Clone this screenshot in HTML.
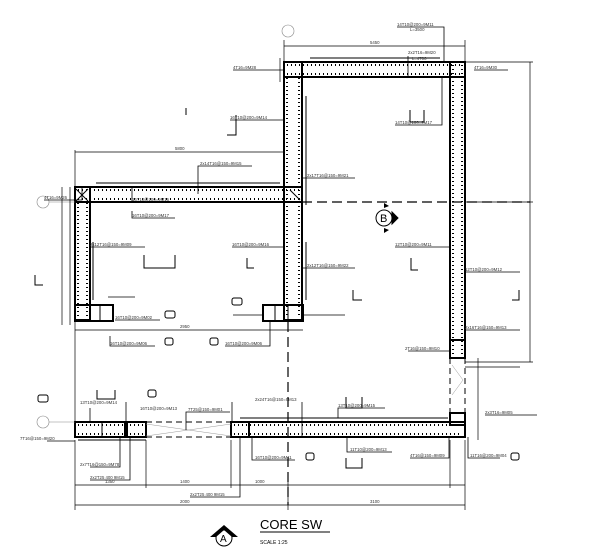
<!DOCTYPE html>
<html><head><meta charset="utf-8"><style>
html,body{margin:0;padding:0;background:#fff;width:600px;height:552px;overflow:hidden}
svg{display:block}
text{font-family:"Liberation Sans",sans-serif;fill:#333}
.t{font-size:4.3px}
</style></head><body>
<svg width="600" height="552" viewBox="0 0 600 552" xmlns="http://www.w3.org/2000/svg">
<g fill="none" stroke="#000">
<g stroke-width="2">
<rect x="284" y="62" width="181" height="15"/>
<rect x="450" y="62" width="15" height="296"/>
<rect x="284" y="62" width="18" height="258"/>
<rect x="75" y="187" width="227" height="15"/>
<rect x="75" y="187" width="15" height="133"/>
<rect x="75" y="305" width="38" height="16"/>
<rect x="263" y="305" width="40" height="16"/>
<rect x="75" y="422" width="50" height="15"/>
<rect x="127" y="422" width="19" height="15"/>
<rect x="231" y="422" width="234" height="15"/>
<rect x="231" y="422" width="18" height="15"/>
<rect x="450" y="340" width="15" height="18"/>
<rect x="450" y="413" width="15" height="12"/>
</g>
<g stroke-width="1">
<line x1="90" y1="305" x2="90" y2="321"/><line x1="100" y1="305" x2="100" y2="321"/>
<line x1="275" y1="305" x2="275" y2="321"/><line x1="288" y1="305" x2="288" y2="321"/>
<line x1="102" y1="422" x2="102" y2="437"/>
<line x1="450" y1="77" x2="465" y2="77"/>
<line x1="284" y1="77" x2="302" y2="77"/>
<line x1="284" y1="187" x2="302" y2="187"/>
<line x1="76" y1="189" x2="88" y2="201"/><line x1="88" y1="189" x2="76" y2="201"/>
<line x1="290" y1="190" x2="300" y2="200"/>
<line x1="306" y1="96" x2="306" y2="205"/><line x1="306" y1="242" x2="306" y2="300"/>
<line x1="93" y1="242" x2="93" y2="300"/><line x1="96" y1="183" x2="280" y2="183"/>
<line x1="310" y1="58" x2="440" y2="58"/><line x1="240" y1="418" x2="448" y2="418"/>
<line x1="78" y1="440" x2="146" y2="440"/>
</g>
<g stroke-width="2" stroke-dasharray="1 3">
<line x1="287" y1="65" x2="462" y2="65"/><line x1="287" y1="74" x2="462" y2="74"/>
<line x1="453" y1="65" x2="453" y2="355"/><line x1="462" y1="65" x2="462" y2="355"/>
<line x1="287" y1="78" x2="287" y2="318"/><line x1="299" y1="78" x2="299" y2="318"/>
<line x1="78" y1="190" x2="299" y2="190"/><line x1="78" y1="199" x2="299" y2="199"/>
<line x1="78" y1="203" x2="78" y2="318"/><line x1="87" y1="203" x2="87" y2="318"/>
<line x1="234" y1="425" x2="462" y2="425"/><line x1="234" y1="434" x2="462" y2="434"/>
<line x1="78" y1="425" x2="144" y2="425"/><line x1="78" y1="434" x2="144" y2="434"/>
</g>
<g stroke-width="1" stroke-dasharray="6 4">
<line x1="450" y1="358" x2="450" y2="413"/><line x1="465" y1="358" x2="465" y2="413"/>
<line x1="146" y1="422" x2="231" y2="422"/><line x1="146" y1="437" x2="231" y2="437"/>
</g>
<g stroke-width="0.5" stroke="#999">
<line x1="146" y1="424" x2="231" y2="436"/><line x1="146" y1="436" x2="231" y2="424"/>
<line x1="452" y1="365" x2="463" y2="380"/><line x1="463" y1="380" x2="452" y2="395"/>
</g>
<g stroke-width="1.2" stroke-dasharray="10 5">
<line x1="302" y1="202" x2="530" y2="202"/>
<line x1="288" y1="322" x2="288" y2="505"/>
</g>
<g stroke-width="0.6" stroke="#888">
<circle cx="288" cy="31" r="6"/><circle cx="43" cy="202" r="6"/><circle cx="43" cy="422" r="6"/>
<line x1="49" y1="202" x2="75" y2="202"/><line x1="49" y1="422" x2="75" y2="422"/>
</g>
<g stroke-width="0.7">
<line x1="75" y1="485" x2="465" y2="485"/>
<line x1="75" y1="505" x2="465" y2="505"/>
<line x1="75" y1="440" x2="75" y2="510"/><line x1="146" y1="440" x2="146" y2="488"/>
<line x1="231" y1="440" x2="231" y2="488"/><line x1="288" y1="480" x2="288" y2="510"/>
<line x1="450" y1="440" x2="450" y2="488"/><line x1="465" y1="440" x2="465" y2="510"/>
<line x1="530" y1="62" x2="530" y2="362"/>
<line x1="465" y1="62" x2="533" y2="62"/><line x1="465" y1="202" x2="533" y2="202"/><line x1="465" y1="362" x2="533" y2="362"/>
<line x1="284" y1="46" x2="465" y2="46"/>
<line x1="284" y1="40" x2="284" y2="62"/><line x1="465" y1="40" x2="465" y2="62"/>
<line x1="75" y1="152" x2="284" y2="152"/><line x1="75" y1="150" x2="75" y2="187"/>
<line x1="70" y1="187" x2="70" y2="325"/><line x1="62" y1="187" x2="62" y2="325"/>
<line x1="75" y1="330" x2="303" y2="330"/><line x1="75" y1="320" x2="75" y2="422"/>
<line x1="478" y1="358" x2="478" y2="440"/>
<line x1="280" y1="58" x2="280" y2="82"/>
</g>
<g stroke-width="0.8">
<path d="M397 27 H444 V62"/><path d="M408 56 V77"/><path d="M395 125 H442 V77"/>
<path d="M233 70 H284"/><path d="M474 70 H508"/>
<path d="M230 120 H284"/><path d="M303 178 H355"/>
<path d="M44 200 H82 V187"/><path d="M132 202 H180 M132 202 V187"/>
<path d="M198 194 V166 H252"/><path d="M132 211 V218 H175"/>
<path d="M90 247 H145"/><path d="M232 247 H284"/><path d="M302 268 H355"/>
<path d="M395 247 H450"/><path d="M465 272 H520"/>
<path d="M108 297 H135"/><path d="M115 320 H160"/><path d="M233 315 H263"/>
<path d="M110 336 V346 H155"/><path d="M270 321 V346 H225"/>
<path d="M303 315 H345"/><path d="M465 330 H520"/><path d="M408 351 H450"/>
<path d="M465 367 H520"/><path d="M485 415 H537"/>
<path d="M90 408 V422"/><path d="M126 402 V437"/><path d="M47 441 H75"/>
<path d="M186 430 V412 H230 M186 412"/><path d="M232 402 V422"/><path d="M302 402 V437"/>
<path d="M338 418 V408 H385"/>
<path d="M120 437 V467 H90"/><path d="M130 437 V480 H90"/>
<path d="M240 437 V497 H190"/><path d="M252 437 V460 H295"/>
<path d="M347 437 V452 H392"/><path d="M449 437 V458 H410"/><path d="M468 437 V458 H500"/>
</g>
<g stroke-width="1">
<path d="M236 115 V135 H227"/><path d="M410 110 V122 H424 V110"/>
<path d="M144 255 V268 H175 V255"/><path d="M247 258 V268 H254"/>
<path d="M411 258 V270 H418"/><path d="M35 275 V285 H43"/>
<path d="M353 290 V300 H362"/><path d="M519 290 V300 H512"/>
<path d="M186 108 V115"/>
<path d="M97 390 V399 H115 V390"/><path d="M346 397 V408 H362 V397"/>
<path d="M346 458 V468 H362 V458"/>
<rect x="165" y="311" width="10" height="7" rx="2"/><rect x="232" y="298" width="10" height="7" rx="2"/>
<rect x="165" y="338" width="8" height="7" rx="2"/><rect x="210" y="338" width="8" height="7" rx="2"/>
<rect x="38" y="395" width="10" height="7" rx="2"/><rect x="148" y="390" width="8" height="7" rx="2"/>
<rect x="306" y="453" width="8" height="7" rx="2"/><rect x="511" y="453" width="8" height="7" rx="2"/>
</g>
<g stroke-width="1">
<circle cx="384" cy="218" r="8"/>
<circle cx="224" cy="538" r="8"/>
</g>
<polygon points="392,212 398,218 392,224" fill="#000"/>
<polygon points="384,203 389,206 384,208" fill="#000" stroke="none"/>
<polygon points="384,228 389,230 384,233" fill="#000" stroke="none"/>
<polygon points="210,537 224,525 238,537 232,537 224,530 216,537" fill="#000" stroke="none"/>
<line x1="260" y1="532" x2="330" y2="532" stroke-width="1"/>
</g>
<text x="380" y="222" style="font-size:11px;fill:#000">B</text>
<text x="220" y="542" style="font-size:10px;fill:#000">A</text>
<text x="260" y="529" style="font-size:13px;fill:#000">CORE SW</text>
<text x="260" y="544" style="font-size:5px;fill:#000">SCALE 1:25</text>
<g class="t">
<text x="397" y="26">14T10@200=9M11</text><text x="410" y="31">L=3500</text>
<text x="408" y="54">2x2T16=9M20</text><text x="412" y="60">L=4700</text>
<text x="233" y="69">4T16=9M28</text><text x="474" y="69">4T16=9M30</text>
<text x="395" y="124">14T10@100=9M17</text><text x="230" y="119">16T10@200=9M14</text>
<text x="307" y="177">2x17T16@150=9M21</text><text x="44" y="199">4T16=9M26</text>
<text x="132" y="201">16T10@200=9M16</text><text x="200" y="165">2x14T16@150=9M15</text>
<text x="132" y="217">16T10@200=9M17</text><text x="90" y="246">2x12T16@150=9M09</text>
<text x="232" y="246">16T10@200=9M16</text><text x="307" y="267">2x12T16@150=9M22</text>
<text x="395" y="246">12T10@200=9M11</text><text x="465" y="271">12T10@200=9M12</text>
<text x="115" y="319">16T10@200=9M02</text><text x="225" y="345">16T10@200=9M06</text>
<text x="110" y="345">16T10@200=9M06</text><text x="405" y="350">2T16@150=9M10</text>
<text x="465" y="329">2x16T16@150=9M13</text><text x="485" y="414">2x3T16=9M05</text>
<text x="80" y="404">13T10@200=9M14</text><text x="140" y="410">16T10@200=9M13</text>
<text x="188" y="411">7T25@150=9M01</text><text x="255" y="401">2x24T16@150=9M13</text>
<text x="338" y="407">13T10@200=9M15</text><text x="20" y="440">7T16@150=9M20</text>
<text x="80" y="466">2x7T16@150=9M78</text><text x="90" y="479">2x2T25 400 9M15</text>
<text x="190" y="496">2x2T25 400 9M15</text><text x="255" y="459">16T10@200=9M11</text>
<text x="350" y="451">11T10@200=9M13</text><text x="410" y="457">4T16@150=9M09</text>
<text x="470" y="457">11T16@200=9M04</text>
<text x="105" y="483">1350</text><text x="180" y="483">1400</text><text x="255" y="483">1000</text>
<text x="180" y="503">2000</text><text x="370" y="503">3100</text><text x="370" y="44">5450</text>
<text x="175" y="150">5800</text><text x="180" y="328">2950</text>
</g>
</svg>
</body></html>
